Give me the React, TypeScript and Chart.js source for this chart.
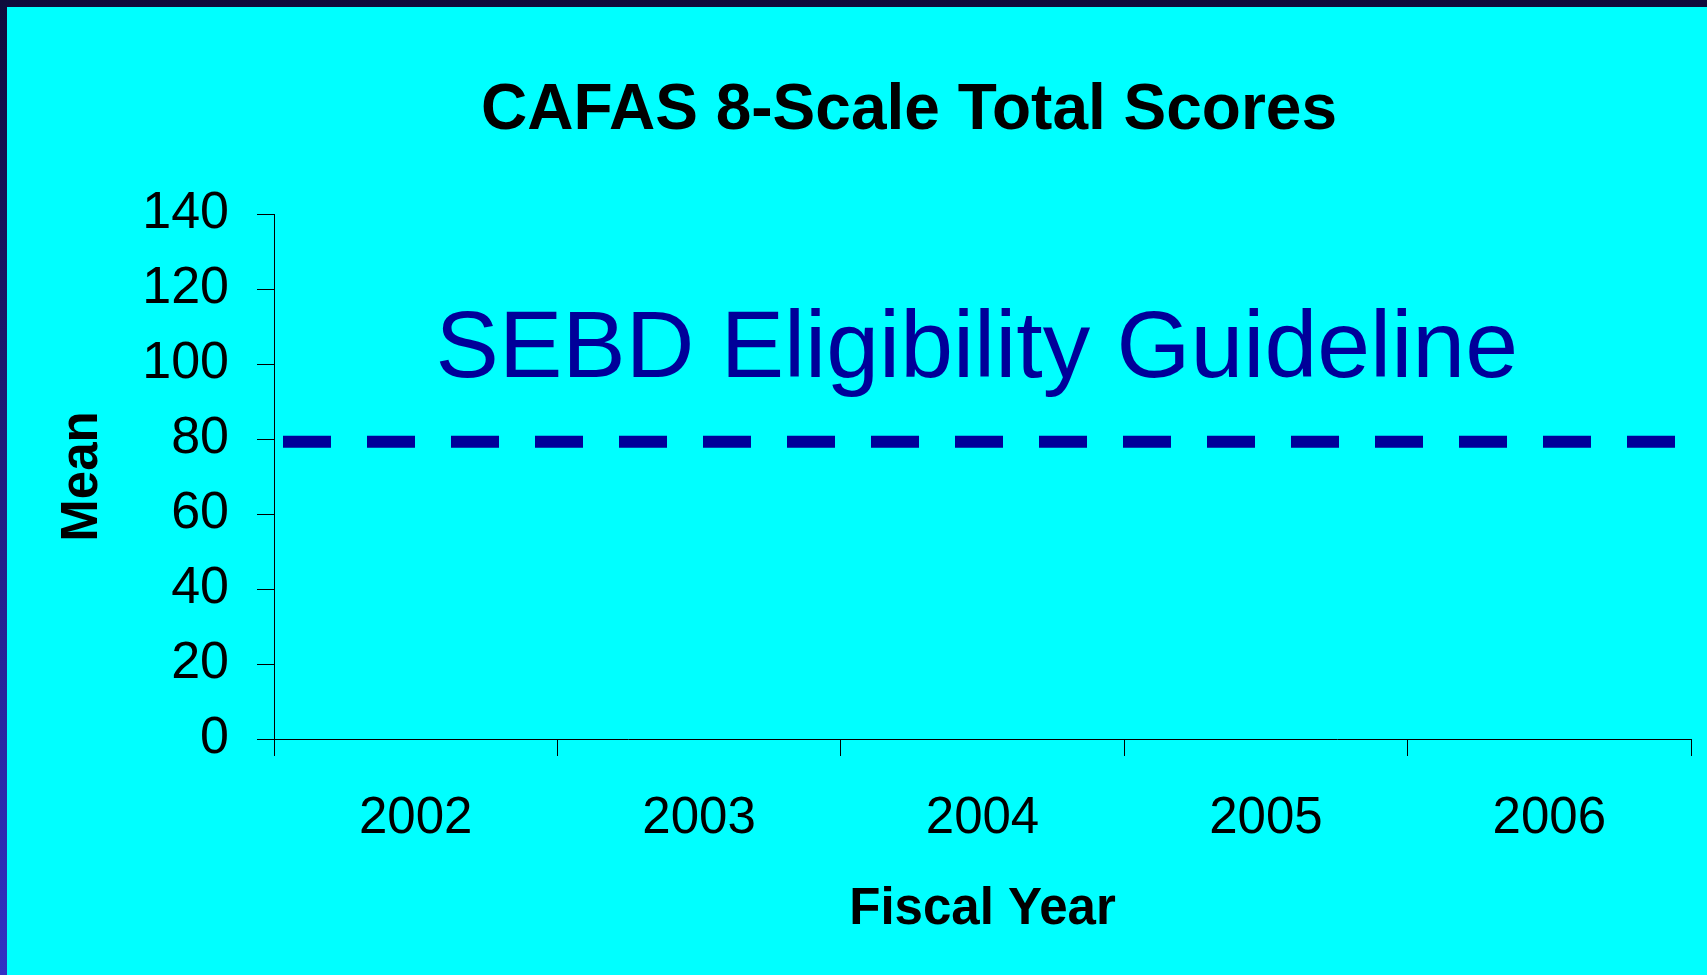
import React, { useEffect, useRef } from "react";
import { Chart, registerables } from "chart.js";

Chart.register(...registerables);

const TITLE = "CAFAS 8-Scale Total Scores";
const FISCAL_YEARS = ["2002", "2003", "2004", "2005", "2006"];
const Y_TICK_MIN = 0;
const Y_TICK_MAX = 140;
const Y_TICK_STEP = 20;
const GUIDELINE_LABEL = "SEBD Eligibility Guideline";
const GUIDELINE_VALUE = [79.3, 79.3];
const GUIDELINE_SPAN = [0, 1];
const GUIDELINE_LABEL_POS = { x: 0.114, y: 103.4 };
const Y_TITLE = "Mean";
const X_TITLE = "Fiscal Year";

const FONT = '"Liberation Sans", Arial, Helvetica, sans-serif';
const CANVAS_W = 1700;
const CANVAS_H = 968;

export default function App() {
  const ref = useRef<HTMLCanvasElement | null>(null);

  useEffect(() => {
    document.body.style.margin = "0";
    const canvas = ref.current;
    if (!canvas) return;

    const overlay = {
      id: "overlay",
      afterDraw(chart: any) {
        const ctx = chart.ctx;
        ctx.save();
        // title
        ctx.fillStyle = "#000000";
        ctx.font = `bold 64px ${FONT}`;
        ctx.textAlign = "center";
        ctx.textBaseline = "middle";
        ctx.fillText(TITLE, 902, 104);
        // guideline label
        const x2 = chart.scales.x2;
        const y = chart.scales.y;
        ctx.fillStyle = "#000099";
        ctx.font = `normal 95px ${FONT}`;
        ctx.textAlign = "left";
        ctx.textBaseline = "middle";
        ctx.fillText(
          GUIDELINE_LABEL,
          x2.getPixelForValue(GUIDELINE_LABEL_POS.x),
          y.getPixelForValue(GUIDELINE_LABEL_POS.y)
        );
        ctx.restore();
      },
    };

    const chart = new Chart(canvas, {
      type: "line",
      data: {
        labels: FISCAL_YEARS,
        datasets: [
          {
            label: GUIDELINE_LABEL,
            xAxisID: "x2",
            yAxisID: "y",
            data: GUIDELINE_SPAN.map((x, i) => ({ x, y: GUIDELINE_VALUE[i] })),
            borderColor: "#000099",
            borderWidth: 12,
            borderDash: [48, 36],
            borderDashOffset: 75,
            borderCapStyle: "butt",
            pointRadius: 0,
            fill: false,
            tension: 0,
          } as any,
        ],
      },
      options: {
        responsive: false,
        devicePixelRatio: 1,
        animation: false,
        layout: { padding: { top: 207, right: 16, bottom: 0, left: 0 } },
        plugins: {
          legend: { display: false },
          tooltip: { enabled: false },
          title: { display: false },
        },
        scales: {
          x: {
            type: "category",
            position: "bottom",
            offset: true,
            grid: {
              offset: true,
              drawOnChartArea: false,
              drawTicks: true,
              tickLength: 17,
              color: "#000000",
              lineWidth: 1,
            },
            border: { display: true, color: "#000000", width: 1 },
            ticks: {
              color: "#000000",
              font: { family: FONT, size: 51 },
              padding: 32,
              maxRotation: 0,
              autoSkip: false,
            },
            title: {
              display: true,
              text: X_TITLE,
              color: "#000000",
              font: { family: FONT, size: 51, weight: "bold" },
              padding: { top: 0, bottom: 34 },
            },
            afterFit(scale: any) {
              scale.height = 236;
            },
          },
          x2: {
            type: "linear",
            display: false,
            min: GUIDELINE_SPAN[0],
            max: GUIDELINE_SPAN[1],
          },
          y: {
            type: "linear",
            position: "left",
            min: Y_TICK_MIN,
            max: Y_TICK_MAX,
            grid: {
              drawOnChartArea: false,
              drawTicks: true,
              tickLength: 17,
              color: "#000000",
              lineWidth: 1,
            },
            border: { display: true, color: "#000000", width: 1 },
            ticks: {
              stepSize: Y_TICK_STEP,
              color: "#000000",
              font: { family: FONT, size: 52 },
              padding: 28,
            },
            title: {
              display: true,
              text: Y_TITLE,
              color: "#000000",
              font: { family: FONT, size: 51, weight: "bold" },
              padding: { top: 45, bottom: 0 },
            },
            afterFit(scale: any) {
              scale.width = 267;
            },
          },
        },
      } as any,
      plugins: [overlay],
    });

    return () => chart.destroy();
  }, []);

  return (
    <div
      style={{
        position: "relative",
        width: 1707,
        height: 975,
        background: "linear-gradient(to bottom, #0f0c3c 0%, #3232c4 100%)",
        overflow: "hidden",
      }}
    >
      <canvas
        ref={ref}
        width={CANVAS_W}
        height={CANVAS_H}
        style={{
          position: "absolute",
          left: 7,
          top: 7,
          width: CANVAS_W,
          height: CANVAS_H,
          background: "#00ffff",
          display: "block",
        }}
      />
    </div>
  );
}
